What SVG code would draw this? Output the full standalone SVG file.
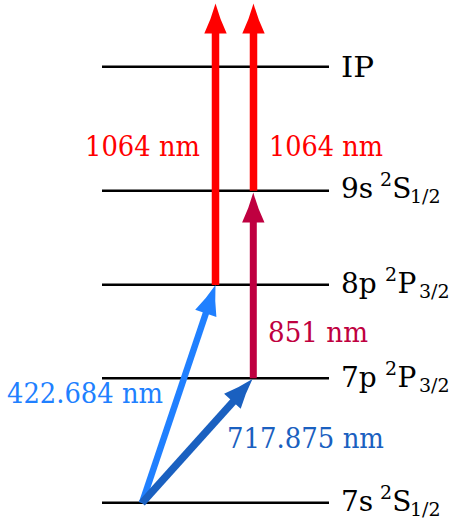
<svg xmlns="http://www.w3.org/2000/svg" width="453" height="523" viewBox="0 0 453 523">
<defs>
<style>
.lvl{stroke:#000;stroke-width:2.6;fill:none}
.t{font-family:"DejaVu Serif","Liberation Serif",serif;font-size:28px;fill:#000}
.s{font-size:19px}
.red{fill:#FF0000}
.pur{fill:#BF0040}
.lb{fill:#2080FF}
.db{fill:#1A60C0}
</style>
<path id="head" d="M0,0 Q4.5,16 11.2,30 L-11.2,30 Q-4.5,16 0,0Z"/>
</defs>
<rect width="453" height="523" fill="#fff"/>
<g id="levels">
<g id="IP"><line class="lvl" x1="102" y1="66.7" x2="329" y2="66.7"/><text class="t" x="341" y="77" textLength="33" lengthAdjust="spacingAndGlyphs">IP</text></g>
<g id="9s"><line class="lvl" x1="102" y1="190.7" x2="329" y2="190.7"/><text class="t" x="341" y="198">9s<tspan class="s" x="380" y="186">2</tspan><tspan x="392.3" y="198">S</tspan><tspan class="s" x="410" y="203">1/2</tspan></text></g>
<g id="8p"><line class="lvl" x1="102" y1="284.7" x2="329" y2="284.7"/><text class="t" x="341" y="293">8p<tspan class="s" x="385" y="281">2</tspan><tspan x="397.4" y="293">P</tspan><tspan class="s" x="419" y="298">3/2</tspan></text></g>
<g id="7p"><line class="lvl" x1="102" y1="378.3" x2="329" y2="378.3"/><text class="t" x="341" y="387">7p<tspan class="s" x="385" y="375">2</tspan><tspan x="397.4" y="387">P</tspan><tspan class="s" x="419" y="392">3/2</tspan></text></g>
<g id="7s"><line class="lvl" x1="102" y1="502.8" x2="329" y2="502.8"/><text class="t" x="341" y="511">7s<tspan class="s" x="380" y="499">2</tspan><tspan x="392.3" y="511">S</tspan><tspan class="s" x="410" y="516">1/2</tspan></text></g>
</g>
<g id="connectors">
<g id="blue422">
<line x1="142" y1="503" x2="207.8" y2="307.5" stroke="#2080FF" stroke-width="6.5"/>
<use href="#head" class="lb" transform="translate(215.5,285) rotate(18.87)"/>
</g>
<g id="blue717">
<line x1="142" y1="503" x2="236.5" y2="398" stroke="#1A60C0" stroke-width="7.5"/>
<use href="#head" class="db" transform="translate(252.5,379) rotate(42.09)"/>
</g>
<g id="purple851">
<line x1="253.3" y1="378.3" x2="253.3" y2="219" stroke="#BF0040" stroke-width="7"/>
<use href="#head" class="pur" transform="translate(253.3,192.5)"/>
</g>
<g id="red1">
<line x1="215.5" y1="285" x2="215.5" y2="30" stroke="#FF0000" stroke-width="7.5"/>
<use href="#head" class="red" transform="translate(215.5,3.5)"/>
</g>
<g id="red2">
<line x1="253.5" y1="190.7" x2="253.5" y2="30" stroke="#FF0000" stroke-width="7.5"/>
<use href="#head" class="red" transform="translate(253.5,3.5)"/>
</g>
</g>
<g id="labels">
<text class="t red" x="85" y="156" textLength="115" lengthAdjust="spacingAndGlyphs">1064 nm</text>
<text class="t red" x="269" y="156" textLength="114" lengthAdjust="spacingAndGlyphs">1064 nm</text>
<text class="t pur" x="268" y="342" textLength="100" lengthAdjust="spacingAndGlyphs">851 nm</text>
<text class="t lb" x="7" y="403" textLength="156" lengthAdjust="spacingAndGlyphs">422.684 nm</text>
<text class="t db" x="227" y="448" textLength="157" lengthAdjust="spacingAndGlyphs">717.875 nm</text>
</g>
</svg>
